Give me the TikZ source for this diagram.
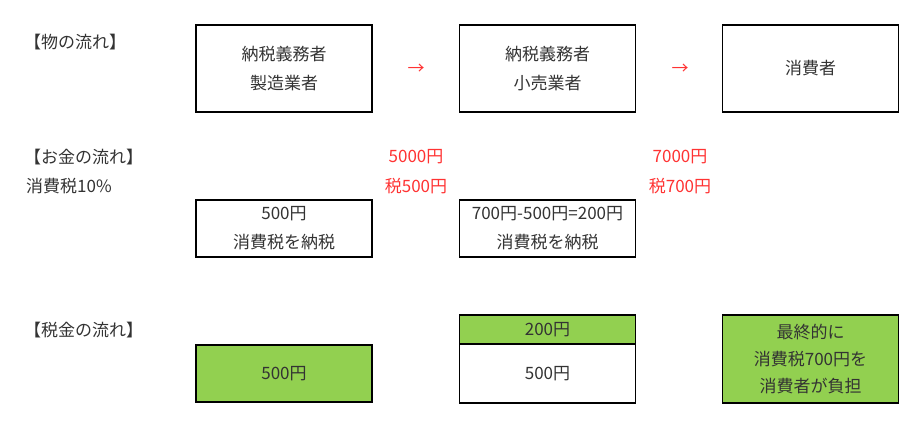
\documentclass[tikz,border=0pt]{standalone}
\usepackage{fontspec}
\setmainfont{Noto Sans CJK JP}
\definecolor{taxgreen}{HTML}{92D050}
\definecolor{inkgray}{HTML}{333333}
\definecolor{moneyred}{HTML}{FF3333}
\begin{document}
\begin{tikzpicture}[x=1pt,y=-1pt,
    every node/.style={font=\fontsize{17}{29}\selectfont, text=inkgray, inner sep=0pt},
    box/.style={draw=black, line width=1.5pt, minimum width=176pt, align=center},
    heading/.style={anchor=west},
    flow/.style={text=moneyred}]
    \useasboundingbox (0,0) rectangle (922,423);
    % row of goods
    \node[heading] (goodslabel) at (24,42) {【物の流れ】};
    \node[box, minimum height=87pt] (maker) at (284,68.5) {納税義務者\\製造業者};
    \node[box, minimum height=87pt] (retailer) at (547.5,68.5) {納税義務者\\小売業者};
    \node[box, minimum height=87pt] (consumer) at (810.5,68.5) {消費者};
    \node[flow] (arrowA) at (416,69) {→};
    \node[flow] (arrowB) at (680,69) {→};
    % row of money
    \node[heading] (moneylabel) at (24,157) {【お金の流れ】};
    \node[heading] (ratelabel) at (26,186) {消費税10\%};
    \node[flow] (priceA) at (416,157) {5000円};
    \node[flow] (taxA) at (416,186) {税500円};
    \node[flow] (priceB) at (680,157) {7000円};
    \node[flow] (taxB) at (680,186) {税700円};
    \node[box, minimum height=57pt] (payA) at (284,228.5) {500円\\消費税を納税};
    \node[box, minimum height=57pt] (payB) at (547.5,228.5) {700円-500円=200円\\消費税を納税};
    % row of tax
    \node[heading] (taxlabel) at (24,330) {【税金の流れ】};
    \node[box, fill=taxgreen, minimum height=57pt] (stackA) at (284,373.5) {500円};
    \node[box, fill=taxgreen, minimum height=29pt] (stackTop) at (547.5,329.5) {200円};
    \node[box, minimum height=59pt] (stackB) at (547.5,373.5) {500円};
    \node[box, fill=taxgreen, minimum height=88pt] (burden) at (810.5,359)
        {最終的に\\[-2pt]消費税700円を\\[-2pt]消費者が負担};
\end{tikzpicture}
\end{document}
